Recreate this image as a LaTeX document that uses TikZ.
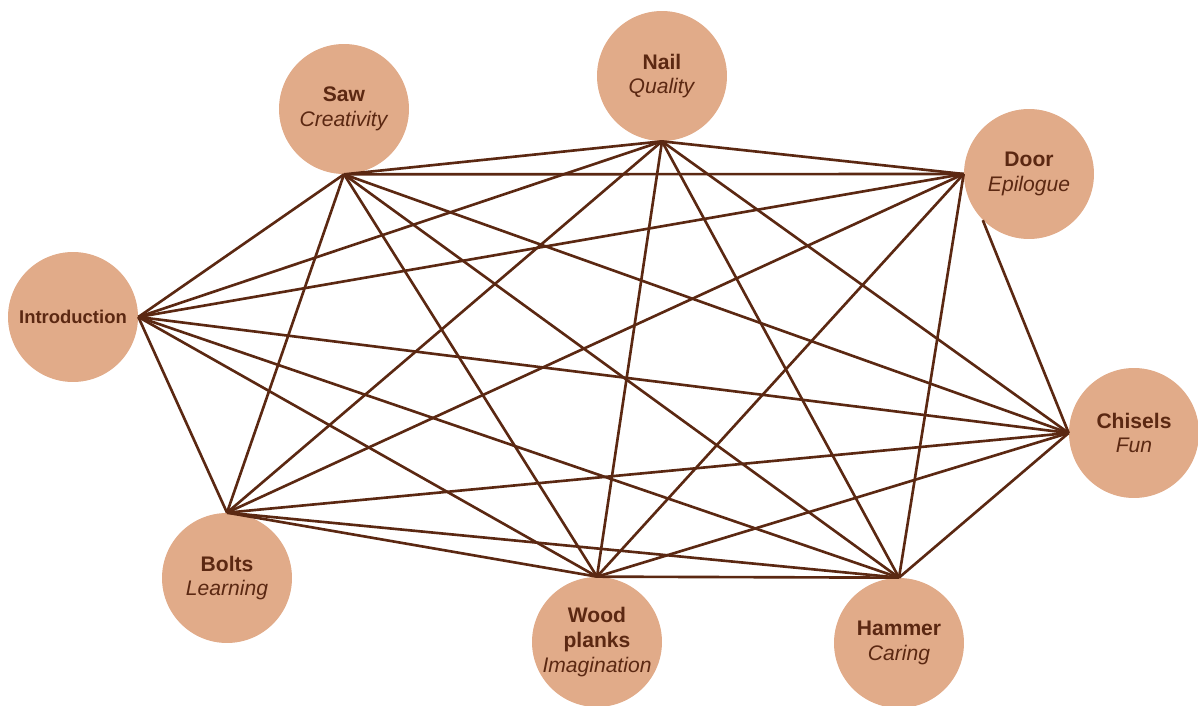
\documentclass[tikz,border=0pt]{standalone}
\usepackage{fontspec}
\setmainfont{Liberation Sans}
\usepackage{xcolor}
\usetikzlibrary{positioning,calc}

\definecolor{tanfill}{HTML}{E1AB89}
\definecolor{bark}{HTML}{5B2812}

\begin{document}
\begin{tikzpicture}[
    x=0.02cm, y=-0.02cm,
    tool/.style={circle, fill=tanfill, minimum size=2.6cm, inner sep=0pt, align=center,
                 text=bark, font=\fontsize{12}{14}\selectfont},
    link/.style={draw=bark, line width=1.5pt},
]
    \useasboundingbox (0,0) rectangle (1198,706);

    \node[tool] (saw)     at (344,109)  {\textbf{Saw}\\\textit{Creativity}};
    \node[tool] (nail)    at (662,76)   {\textbf{Nail}\\\textit{Quality}};
    \node[tool] (door)    at (1029,174) {\textbf{Door}\\\textit{Epilogue}};
    \node[tool, font=\fontsize{10.5}{12}\selectfont] (intro) at (73,317) {\textbf{Introduction}};
    \node[tool] (chisels) at (1134,433) {\textbf{Chisels}\\\textit{Fun}};
    \node[tool] (bolts)   at (227,578)  {\textbf{Bolts}\\\textit{Learning}};
    \node[tool] (wood)    at (597,642)  {\textbf{Wood}\\\textbf{planks}\\\textit{Imagination}};
    \node[tool] (hammer)  at (899,643)  {\textbf{Hammer}\\\textit{Caring}};

    % Introduction
    \draw[link] (intro.east) -- (saw.south);
    \draw[link] (intro.east) -- (nail.south);
    \draw[link] (intro.east) -- (door.west);
    \draw[link] (intro.east) -- (chisels.west);
    \draw[link] (intro.east) -- (hammer.north);
    \draw[link] (intro.east) -- (wood.north);
    \draw[link] (intro.east) -- (bolts.north);
    % Saw
    \draw[link] (saw.south) -- (nail.south);
    \draw[link] (saw.south) -- (door.west);
    \draw[link] (saw.south) -- (chisels.west);
    \draw[link] (saw.south) -- (hammer.north);
    \draw[link] (saw.south) -- (wood.north);
    \draw[link] (saw.south) -- (bolts.north);
    % Nail
    \draw[link] (nail.south) -- (door.west);
    \draw[link] (nail.south) -- (chisels.west);
    \draw[link] (nail.south) -- (hammer.north);
    \draw[link] (nail.south) -- (wood.north);
    \draw[link] (nail.south) -- (bolts.north);
    % Door
    \draw[link] (door.225) -- (chisels.west);
    \draw[link] (door.west) -- (hammer.north);
    \draw[link] (door.west) -- (wood.north);
    \draw[link] (door.west) -- (bolts.north);
    % Chisels
    \draw[link] (chisels.west) -- (hammer.north);
    \draw[link] (chisels.west) -- (wood.north);
    \draw[link] (chisels.west) -- (bolts.north);
    % Bottom row
    \draw[link] (hammer.north) -- (wood.north);
    \draw[link] (hammer.north) -- (bolts.north);
    \draw[link] (wood.north) -- (bolts.north);
\end{tikzpicture}
\end{document}
